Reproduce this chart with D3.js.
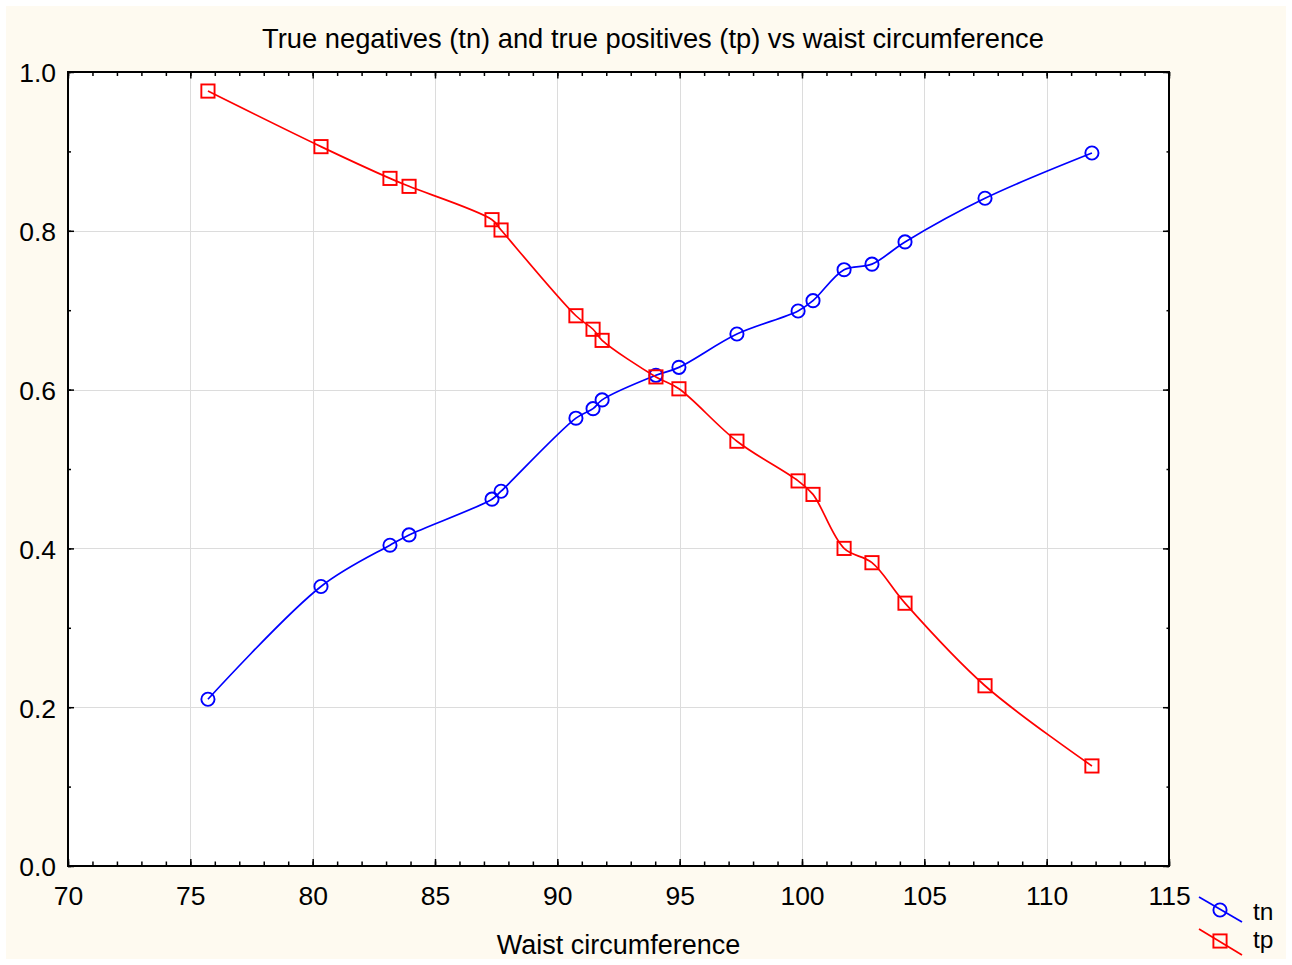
<!DOCTYPE html>
<html><head><meta charset="utf-8">
<script src="https://cdn.jsdelivr.net/npm/d3@7"></script>
<style>
html,body{margin:0;padding:0;background:#fff;}
svg text{font-family:"Liberation Sans",Arial,sans-serif;fill:#000;}
</style></head>
<body>
<svg id="chart" width="1292" height="965"></svg>
<script>
const waist = [75.72, 80.34, 83.16, 83.94, 87.33, 87.70, 90.76, 91.46, 91.83, 94.03, 94.97, 97.34, 99.84, 100.45, 101.72, 102.86, 104.21, 107.48, 111.85];
const tn = [0.210, 0.352, 0.404, 0.417, 0.462, 0.472, 0.564, 0.576, 0.587, 0.618, 0.628, 0.670, 0.699, 0.712, 0.751, 0.758, 0.786, 0.841, 0.898];
const tp = [0.976, 0.906, 0.866, 0.856, 0.814, 0.801, 0.693, 0.676, 0.662, 0.616, 0.601, 0.535, 0.485, 0.468, 0.400, 0.382, 0.331, 0.227, 0.126];
const xTicks = [70, 75, 80, 85, 90, 95, 100, 105, 110, 115];
const yTicks = [0.0, 0.2, 0.4, 0.6, 0.8, 1.0];
const seriesNames = ["tn", "tp"];
const seriesColors = ["#0000ff", "#ff0000"];
const titleText = "True negatives (tn) and true positives (tp) vs waist circumference";
const xTitle = "Waist circumference";

const svg = d3.select("#chart");
const L = 68, R = 1169, T = 72, B = 866;
const x = d3.scaleLinear().domain([70, 115]).range([L, R]);
const y = d3.scaleLinear().domain([0, 1]).range([B, T]);

svg.append("rect").attr("x", 6).attr("y", 6).attr("width", 1280).attr("height", 953).attr("fill", "#fefaf0");
svg.append("rect").attr("x", L).attr("y", T).attr("width", R - L).attr("height", B - T).attr("fill", "#fff");

// grid
const grid = svg.append("g").attr("stroke", "#dcdcdc").attr("stroke-width", 1);
xTicks.filter(v => v > 70 && v < 115).forEach(v => {
  grid.append("line").attr("x1", Math.round(x(v)) + 0.5).attr("x2", Math.round(x(v)) + 0.5).attr("y1", T).attr("y2", B);
});
yTicks.filter(v => v > 0 && v < 1).forEach(v => {
  grid.append("line").attr("y1", Math.round(y(v)) + 0.5).attr("y2", Math.round(y(v)) + 0.5).attr("x1", L).attr("x2", R);
});

const minorX = d3.range(70, 116, 1);
const minorY = d3.range(0, 1.0001, 0.1);

function axisG(gen, tx, ty) {
  const g = svg.append("g").attr("transform", `translate(${tx},${ty})`).call(gen);
  g.select(".domain").remove();
  g.selectAll("line").attr("stroke", "#000").attr("stroke-width", 1.5);
  return g;
}
// bottom
const bx = axisG(d3.axisBottom(x).tickValues(xTicks).tickSize(-7).tickPadding(20).tickFormat(d3.format("d")), 0, B);
bx.selectAll("text").attr("font-size", 26.5).attr("dy", "0.71em");
axisG(d3.axisBottom(x).tickValues(minorX).tickSize(-4.5).tickFormat(""), 0, B);
// top
axisG(d3.axisTop(x).tickValues(xTicks).tickSize(-6.5).tickFormat(""), 0, T);
axisG(d3.axisTop(x).tickValues(minorX).tickSize(-4).tickFormat(""), 0, T);
// left
const ly = axisG(d3.axisLeft(y).tickValues(yTicks).tickSize(-6).tickPadding(12).tickFormat(d3.format(".1f")), L, 0);
ly.selectAll("text").attr("font-size", 26.5).attr("dy", "0.37em");
axisG(d3.axisLeft(y).tickValues(minorY).tickSize(-3).tickFormat(""), L, 0);
// right
axisG(d3.axisRight(y).tickValues(yTicks).tickSize(-6).tickFormat(""), R, 0);
axisG(d3.axisRight(y).tickValues(minorY).tickSize(-2.5).tickFormat(""), R, 0);
svg.selectAll(".tick text").attr("fill", "#000").attr("font-family", '"Liberation Sans",Arial,sans-serif');

// frame
svg.append("rect").attr("x", L).attr("y", T).attr("width", R - L).attr("height", B - T)
  .attr("fill", "none").attr("stroke", "#000").attr("stroke-width", 2);

// series
const series = [tn, tp];
const line = d3.line().x(d => x(d[0])).y(d => y(d[1])).curve(d3.curveCatmullRom.alpha(0.5));
const plot = svg.append("g");
series.forEach((vals, i) => {
  const pts = waist.map((w, j) => [w, vals[j]]);
  plot.append("path").datum(pts).attr("d", line).attr("fill", "none")
    .attr("stroke", seriesColors[i]).attr("stroke-width", 1.7);
});
series.forEach((vals, i) => {
  const pts = waist.map((w, j) => [w, vals[j]]);
  if (i === 0) {
    plot.selectAll(null).data(pts).enter().append("circle")
      .attr("cx", d => x(d[0])).attr("cy", d => y(d[1])).attr("r", 6.6)
      .attr("fill", "none").attr("stroke", seriesColors[i]).attr("stroke-width", 1.9);
  } else {
    plot.selectAll(null).data(pts).enter().append("rect")
      .attr("x", d => x(d[0]) - 6.6).attr("y", d => y(d[1]) - 6.6).attr("width", 13.2).attr("height", 13.2)
      .attr("fill", "none").attr("stroke", seriesColors[i]).attr("stroke-width", 1.9);
  }
});

// titles
svg.append("text").attr("x", 653).attr("y", 48).attr("text-anchor", "middle").attr("font-size", 27.3).text(titleText);
svg.append("text").attr("x", (L + R) / 2).attr("y", 954).attr("text-anchor", "middle").attr("font-size", 27).text(xTitle);

// legend
const lg = svg.append("g");
[[897, 910, 922], [929, 941, 955]].forEach((p, i) => {
  lg.append("line").attr("x1", 1199).attr("y1", p[0]).attr("x2", 1242).attr("y2", p[2])
    .attr("stroke", seriesColors[i]).attr("stroke-width", 1.7);
  if (i === 0) {
    lg.append("circle").attr("cx", 1220).attr("cy", p[1]).attr("r", 6.6).attr("fill", "none")
      .attr("stroke", seriesColors[i]).attr("stroke-width", 1.9);
  } else {
    lg.append("rect").attr("x", 1213.4).attr("y", p[1] - 6.6).attr("width", 13.2).attr("height", 13.2).attr("fill", "none")
      .attr("stroke", seriesColors[i]).attr("stroke-width", 1.9);
  }
  lg.append("text").attr("x", 1253).attr("y", i === 0 ? 920 : 948).attr("font-size", 24.5).text(seriesNames[i]);
});
</script>
</body></html>
